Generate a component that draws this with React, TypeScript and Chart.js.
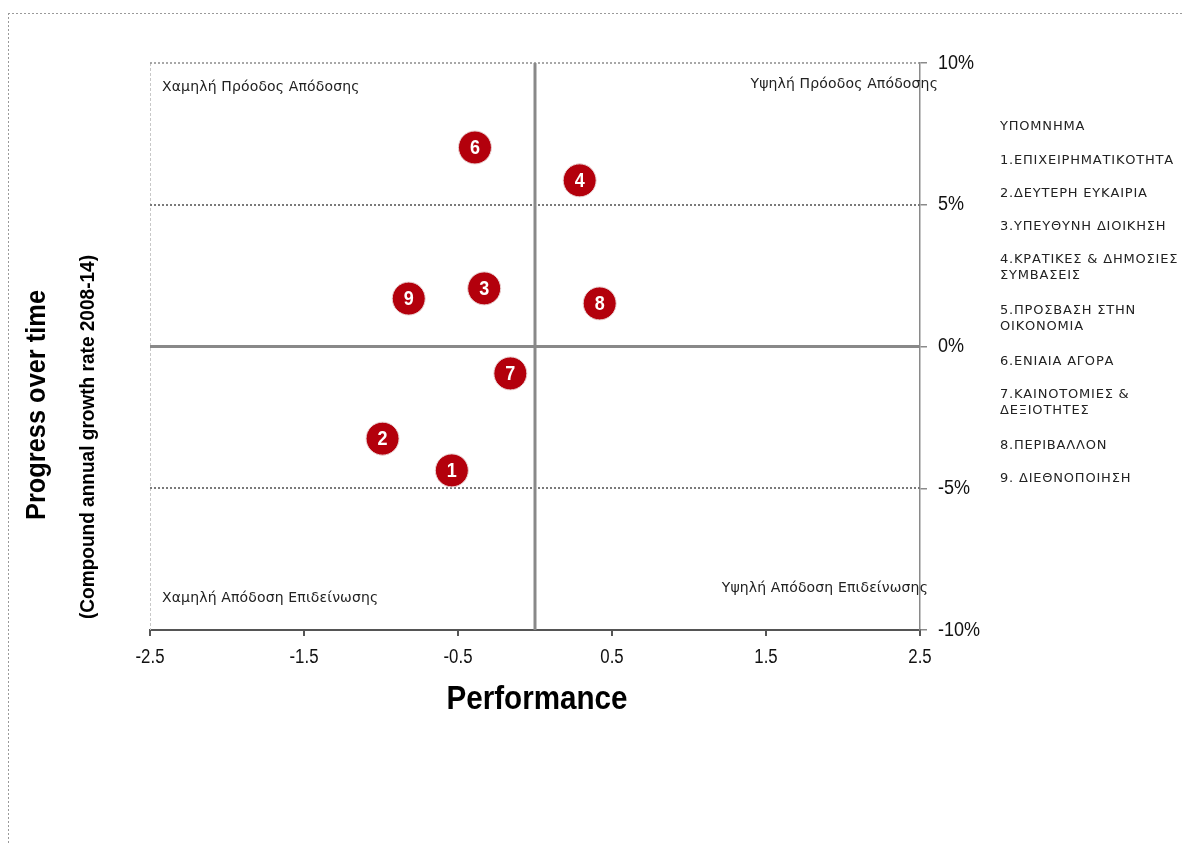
import React, { useEffect, useRef } from "react";
import { Chart, registerables } from "chart.js";

Chart.register(...registerables);

const pointLabels = ["1", "2", "3", "4", "6", "7", "8", "9"];
const performanceValues = [-0.54, -0.99, -0.33, 0.29, -0.39, -0.16, 0.42, -0.82];
const growthValues = [-4.37, -3.25, 2.05, 5.86, 7.02, -0.95, 1.52, 1.69];
const xTickValues = [-2.5, -1.5, -0.5, 0.5, 1.5, 2.5];
const yTickValues = [-10, -5, 0, 5, 10];
const dottedGridValues = [-5, 5];
const legendTitle = "ΥΠΟΜΝΗΜΑ";
const legendItems: string[][] = [
  ["1.ΕΠΙΧΕΙΡΗΜΑΤΙΚΟΤΗΤΑ"],
  ["2.ΔΕΥΤΕΡΗ ΕΥΚΑΙΡΙΑ"],
  ["3.ΥΠΕΥΘΥΝΗ ΔΙΟΙΚΗΣΗ"],
  ["4.ΚΡΑΤΙΚΕΣ & ΔΗΜΟΣΙΕΣ", "ΣΥΜΒΑΣΕΙΣ"],
  ["5.ΠΡΟΣΒΑΣΗ ΣΤΗΝ", "ΟΙΚΟΝΟΜΙΑ"],
  ["6.ΕΝΙΑΙΑ ΑΓΟΡΑ"],
  ["7.ΚΑΙΝΟΤΟΜΙΕΣ &", "ΔΕΞΙΟΤΗΤΕΣ"],
  ["8.ΠΕΡΙΒΑΛΛΟΝ"],
  ["9. ΔΙΕΘΝΟΠΟΙΗΣΗ"],
];
const quadrantTopLeft = "Χαμηλή Πρόοδος Απόδοσης";
const quadrantTopRight = "Υψηλή Πρόοδος Απόδοσης";
const quadrantBottomLeft = "Χαμηλή Απόδοση Επιδείνωσης";
const quadrantBottomRight = "Υψηλή Απόδοση Επιδείνωσης";
const xTitle = "Performance";
const yTitle = "Progress over time";
const ySubTitle = "(Compound annual growth rate 2008-14)";

const W = 1182;
const H = 843;
const SANS = "'Liberation Sans', Arial, sans-serif";

function scaledText(
  ctx: CanvasRenderingContext2D,
  text: string,
  x: number,
  y: number,
  font: string,
  opts: { width?: number; sx?: number; align?: CanvasTextAlign }
) {
  ctx.save();
  ctx.font = font;
  const w = ctx.measureText(text).width;
  const s = opts.width ? opts.width / w : opts.sx || 1;
  ctx.translate(x, y);
  ctx.scale(s, 1);
  ctx.textAlign = opts.align || "center";
  ctx.textBaseline = "middle";
  ctx.fillText(text, 0, 0);
  ctx.restore();
}

const decorPlugin = {
  id: "decor",
  beforeDraw(chart: any) {
    const ctx = chart.ctx as CanvasRenderingContext2D;
    ctx.save();
    ctx.fillStyle = "#ffffff";
    ctx.fillRect(0, 0, W, H);
    ctx.strokeStyle = "#9a9a9a";
    ctx.lineWidth = 1;
    ctx.setLineDash([2, 2]);
    ctx.beginPath();
    ctx.moveTo(8, 13.5);
    ctx.lineTo(W, 13.5);
    ctx.moveTo(8.5, 13);
    ctx.lineTo(8.5, H);
    ctx.stroke();
    ctx.restore();
  },
  beforeDatasetsDraw(chart: any) {
    const ctx = chart.ctx as CanvasRenderingContext2D;
    const xs = chart.scales.x;
    const ys = chart.scales.y;
    const { left, right, top, bottom } = chart.chartArea;
    ctx.save();
    ctx.strokeStyle = "#c8c8c8";
    ctx.lineWidth = 1;
    ctx.setLineDash([3, 2]);
    ctx.beginPath();
    ctx.moveTo(left + 0.5, top);
    ctx.lineTo(left + 0.5, bottom);
    ctx.stroke();
    ctx.strokeStyle = "#8c8c8c";
    ctx.lineWidth = 1.5;
    ctx.setLineDash([2, 2]);
    ctx.beginPath();
    ctx.moveTo(left, ys.getPixelForValue(10));
    ctx.lineTo(right, ys.getPixelForValue(10));
    ctx.stroke();
    ctx.strokeStyle = "#7a7a7a";
    ctx.lineWidth = 2;
    ctx.setLineDash([2, 2]);
    dottedGridValues.forEach((v) => {
      const y = Math.round(ys.getPixelForValue(v));
      ctx.beginPath();
      ctx.moveTo(left, y);
      ctx.lineTo(right, y);
      ctx.stroke();
    });
    ctx.setLineDash([]);
    ctx.strokeStyle = "#898989";
    ctx.lineWidth = 3;
    const y0 = ys.getPixelForValue(0);
    ctx.beginPath();
    ctx.moveTo(left, y0);
    ctx.lineTo(right, y0);
    ctx.stroke();
    const x0 = xs.getPixelForValue(0);
    ctx.beginPath();
    ctx.moveTo(x0, top);
    ctx.lineTo(x0, bottom);
    ctx.stroke();
    ctx.restore();
  },
  afterDatasetsDraw(chart: any) {
    const ctx = chart.ctx as CanvasRenderingContext2D;
    const meta = chart.getDatasetMeta(0);
    ctx.save();
    ctx.fillStyle = "#ffffff";
    meta.data.forEach((el: any, i: number) => {
      scaledText(ctx, pointLabels[i], el.x, el.y + 1, "bold 21px " + SANS, { width: 10 });
    });
    ctx.restore();
  },
  afterDraw(chart: any) {
    const ctx = chart.ctx as CanvasRenderingContext2D;
    const xs = chart.scales.x;
    const ys = chart.scales.y;
    const { left, right, top, bottom } = chart.chartArea;
    ctx.save();
    // tick labels (condensed), positioned by the chart's scales
    ctx.fillStyle = "#111111";
    xs.ticks.forEach((t: any) => {
      scaledText(ctx, String(t.value), xs.getPixelForValue(t.value), bottom + 27, "20px " + SANS, { sx: 0.84 });
    });
    ys.ticks.forEach((t: any) => {
      scaledText(ctx, t.value + "%", right + 18, ys.getPixelForValue(t.value), "20px " + SANS, { sx: 0.9, align: "left" });
    });
    // quadrant labels
    ctx.fillStyle = "#222222";
    ctx.font = "14px 'DejaVu Sans', Verdana, sans-serif";
    (ctx as any).letterSpacing = "0.15px";
    ctx.textBaseline = "middle";
    ctx.textAlign = "left";
    ctx.fillText(quadrantTopLeft, left + 12, top + 24);
    ctx.fillText(quadrantBottomLeft, left + 12, bottom - 32);
    ctx.textAlign = "right";
    ctx.fillText(quadrantTopRight, right + 18, top + 21);
    ctx.fillText(quadrantBottomRight, right + 8, bottom - 42);
    (ctx as any).letterSpacing = "0px";
    // axis titles
    ctx.fillStyle = "#000000";
    scaledText(ctx, xTitle, (left + right) / 2 + 2, 700, "bold 33px " + SANS, { width: 181 });
    ctx.save();
    ctx.translate(38, 405);
    ctx.rotate(-Math.PI / 2);
    scaledText(ctx, yTitle, 0, 0, "bold 27px " + SANS, { width: 230 });
    ctx.restore();
    ctx.save();
    ctx.translate(88, 437);
    ctx.rotate(-Math.PI / 2);
    scaledText(ctx, ySubTitle, 0, 0, "bold 20px " + SANS, { width: 364 });
    ctx.restore();
    // legend
    ctx.fillStyle = "#222222";
    ctx.font = "13px 'DejaVu Sans', Verdana, sans-serif";
    (ctx as any).letterSpacing = "0.8px";
    ctx.textAlign = "left";
    ctx.textBaseline = "middle";
    const lx = 1000;
    ctx.fillText(legendTitle, lx, 127);
    let y = 161;
    legendItems.forEach((lines) => {
      lines.forEach((ln, j) => ctx.fillText(ln, lx, y + j * 16));
      y += 33 + 18 * (lines.length - 1);
    });
    ctx.restore();
  },
};

export default function App() {
  const ref = useRef<HTMLCanvasElement | null>(null);
  useEffect(() => {
    document.body.style.margin = "0";
    const canvas = ref.current!;
    const chart = new Chart(canvas, {
      type: "scatter",
      data: {
        datasets: [
          {
            label: "Points",
            data: performanceValues.map((x, i) => ({ x, y: growthValues[i] })),
            backgroundColor: "#b3000c",
            borderColor: "#e9d4d4",
            borderWidth: 1,
            pointRadius: 16.5,
            pointHoverRadius: 16.5,
          },
        ],
      },
      options: {
        responsive: false,
        animation: false,
        events: [],
        layout: { padding: { left: 150, top: 63, right: 0, bottom: 0 } },
        plugins: { legend: { display: false }, tooltip: { enabled: false } },
        scales: {
          x: {
            type: "linear",
            position: "bottom",
            min: -2.5,
            max: 2.5,
            afterBuildTicks: (scale: any) => {
              scale.ticks = xTickValues.map((value) => ({ value }));
            },
            afterFit: (scale: any) => {
              scale.height = H - 630;
            },
            grid: {
              display: true,
              drawOnChartArea: false,
              drawTicks: true,
              tickLength: 6,
              color: "#555555",
              lineWidth: 2,
            },
            border: { display: true, color: "#555555", width: 2, dash: [2, 1] },
            ticks: { display: false, autoSkip: false },
          },
          y: {
            type: "linear",
            position: "right",
            min: -10,
            max: 10,
            afterBuildTicks: (scale: any) => {
              scale.ticks = yTickValues.map((value) => ({ value }));
            },
            afterFit: (scale: any) => {
              scale.width = W - 920;
            },
            grid: {
              display: true,
              drawOnChartArea: false,
              drawTicks: true,
              tickLength: 7,
              color: "#8a8a8a",
              lineWidth: 1.5,
            },
            border: { display: true, color: "#8a8a8a", width: 1.5, dash: [4, 2] },
            ticks: { display: false },
          },
        },
      },
      plugins: [decorPlugin],
    });
    return () => chart.destroy();
  }, []);
  return (
    <div style={{ position: "fixed", left: 0, top: 0, width: W, height: H, background: "#fff" }}>
      <canvas ref={ref} width={W} height={H} style={{ display: "block", width: W, height: H }} />
    </div>
  );
}
